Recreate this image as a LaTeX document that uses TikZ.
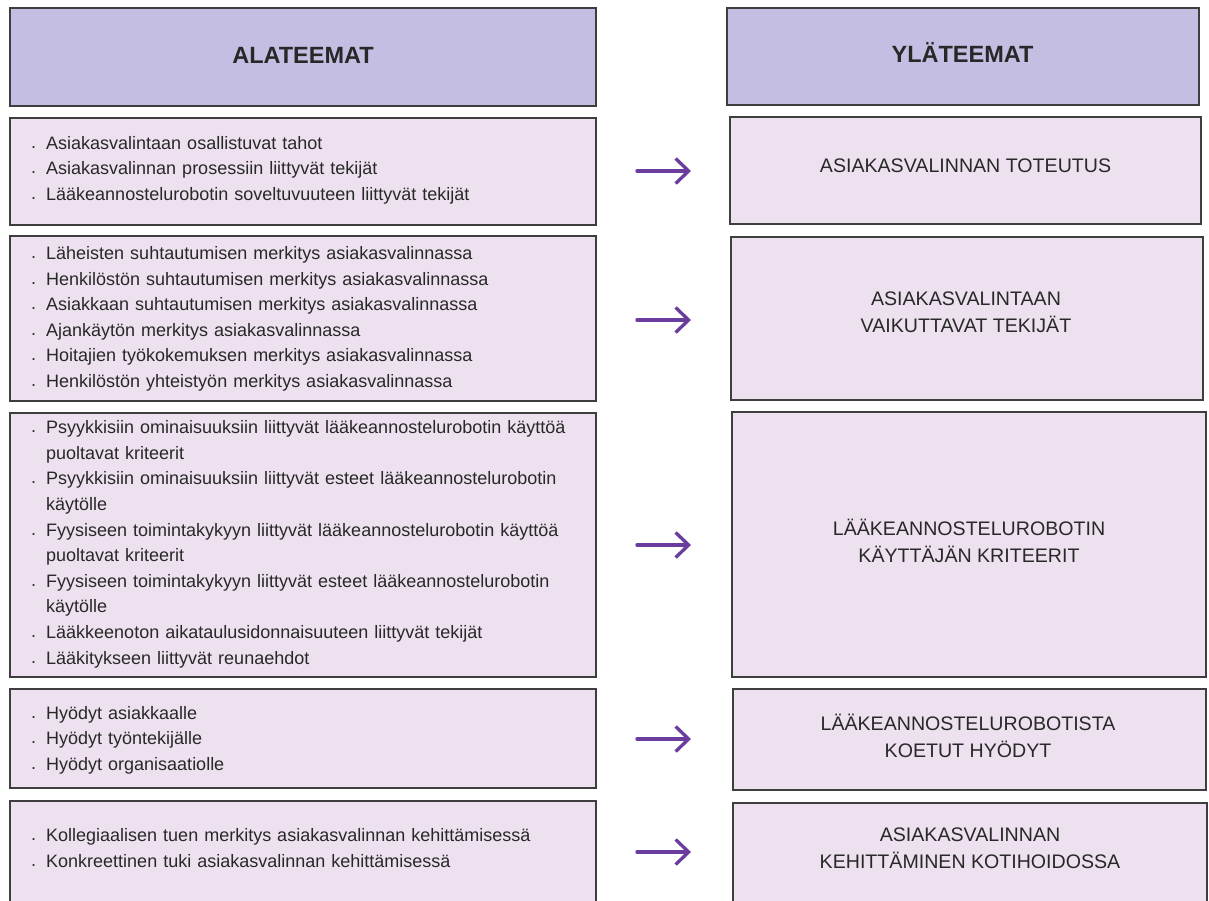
\documentclass[tikz,border=0pt]{standalone}
\usepackage{fontspec}
\setmainfont{Liberation Sans}
\usetikzlibrary{arrows.meta}
\definecolor{hdr}{RGB}{196,190,226}
\definecolor{bx}{RGB}{237,225,239}
\definecolor{brd}{RGB}{62,62,62}
\definecolor{txt}{RGB}{40,40,40}
\definecolor{arr}{RGB}{106,60,158}
\newcommand{\itm}[1]{\par\noindent\hangindent=15pt\hangafter=1\makebox[15pt][l]{\raisebox{1pt}{.}}#1}
\begin{document}
\begin{tikzpicture}[x=1pt,y=-1pt,
  hbox/.style={draw=brd, line width=2pt, fill=hdr, inner sep=0pt},
  cbox/.style={draw=brd, line width=2pt, fill=bx, inner sep=0pt},
  htext/.style={inner sep=0pt, text=txt, font=\fontsize{23.5}{28}\selectfont\bfseries},
  ltext/.style={anchor=west, inner sep=0pt, text width=560pt, align=left, text=txt, font=\fontsize{18}{25.6}\selectfont},
  rtext/.style={inner sep=0pt, align=center, text=txt, font=\fontsize{19.6}{27}\selectfont},
  purplearrow/.style={draw=arr, line width=3.3pt, line cap=round, -{Straight Barb[length=13pt,width=25pt]}}
]
\useasboundingbox (0,0) rectangle (1209,900);
\fill[white] (0,0) rectangle (1209,900);

% left column
\node[hbox, minimum width=586pt, minimum height=98pt] (L0) at (303,57) {};
\node[cbox, minimum width=586pt, minimum height=107pt] (L1) at (303,171.5) {};
\node[cbox, minimum width=586pt, minimum height=165pt] (L2) at (303,318.5) {};
\node[cbox, minimum width=586pt, minimum height=264pt] (L3) at (303,545) {};
\node[cbox, minimum width=586pt, minimum height=99pt] (L4) at (303,738.5) {};
\node[cbox, minimum width=586pt, minimum height=104pt] (L5) at (303,853) {};

% right column
\node[hbox, minimum width=472pt, minimum height=97pt] (R0) at (963,56.5) {};
\node[cbox, minimum width=471pt, minimum height=107pt] (R1) at (965.5,170.5) {};
\node[cbox, minimum width=472pt, minimum height=163pt] (R2) at (966.5,318) {};
\node[cbox, minimum width=474pt, minimum height=265pt] (R3) at (969,544.5) {};
\node[cbox, minimum width=473pt, minimum height=101pt] (R4) at (969.5,739.5) {};
\node[cbox, minimum width=474pt, minimum height=104pt] (R5) at (970,855) {};

% header texts
\node[htext] (LT) at (303,55) {ALATEEMAT};
\node[htext] (RT) at (962.5,52) {YLÄTEEMAT};

% left texts
\node[ltext] (T1) at (31,164) {%
\itm{Asiakasvalintaan osallistuvat tahot}
\itm{Asiakasvalinnan prosessiin liittyvät tekijät}
\itm{Lääkeannostelurobotin soveltuvuuteen liittyvät tekijät}};
\node[ltext] (T2) at (31,312.5) {%
\itm{Läheisten suhtautumisen merkitys asiakasvalinnassa}
\itm{Henkilöstön suhtautumisen merkitys asiakasvalinnassa}
\itm{Asiakkaan suhtautumisen merkitys asiakasvalinnassa}
\itm{Ajankäytön merkitys asiakasvalinnassa}
\itm{Hoitajien työkokemuksen merkitys asiakasvalinnassa}
\itm{Henkilöstön yhteistyön merkitys asiakasvalinnassa}};
\node[ltext] (T3) at (31,538) {%
\itm{Psyykkisiin ominaisuuksiin liittyvät lääkeannostelurobotin käyttöä\newline puoltavat kriteerit}
\itm{Psyykkisiin ominaisuuksiin liittyvät esteet lääkeannostelurobotin\newline käytölle}
\itm{Fyysiseen toimintakykyyn liittyvät lääkeannostelurobotin käyttöä\newline puoltavat kriteerit}
\itm{Fyysiseen toimintakykyyn liittyvät esteet lääkeannostelurobotin\newline käytölle}
\itm{Lääkkeenoton aikataulusidonnaisuuteen liittyvät tekijät}
\itm{Lääkitykseen liittyvät reunaehdot}};
\node[ltext] (T4) at (31,734) {%
\itm{Hyödyt asiakkaalle}
\itm{Hyödyt työntekijälle}
\itm{Hyödyt organisaatiolle}};
\node[ltext] (T5) at (31,842) {%
\itm{Kollegiaalisen tuen merkitys asiakasvalinnan kehittämisessä}
\itm{Konkreettinen tuki asiakasvalinnan kehittämisessä}};

% right texts
\node[rtext] (U1) at (965.5,166) {ASIAKASVALINNAN TOTEUTUS};
\node[rtext] (U2) at (966,312.5) {ASIAKASVALINTAAN\\VAIKUTTAVAT TEKIJÄT};
\node[rtext] (U3) at (969,541) {LÄÄKEANNOSTELUROBOTIN\\KÄYTTÄJÄN KRITEERIT};
\node[rtext] (U4) at (968,736) {LÄÄKEANNOSTELUROBOTISTA\\KOETUT HYÖDYT};
\node[rtext] (U5) at (970,848.5) {ASIAKASVALINNAN\\KEHITTÄMINEN KOTIHOIDOSSA};

% arrows
\coordinate (a1s) at (637,171); \coordinate (a1e) at (691,171);
\coordinate (a2s) at (637,320); \coordinate (a2e) at (691,320);
\coordinate (a3s) at (637,545); \coordinate (a3e) at (691,545);
\coordinate (a4s) at (637,739); \coordinate (a4e) at (691,739);
\coordinate (a5s) at (637,852); \coordinate (a5e) at (691,852);
\draw[purplearrow] (a1s) -- (a1e);
\draw[purplearrow] (a2s) -- (a2e);
\draw[purplearrow] (a3s) -- (a3e);
\draw[purplearrow] (a4s) -- (a4e);
\draw[purplearrow] (a5s) -- (a5e);
\end{tikzpicture}
\end{document}
